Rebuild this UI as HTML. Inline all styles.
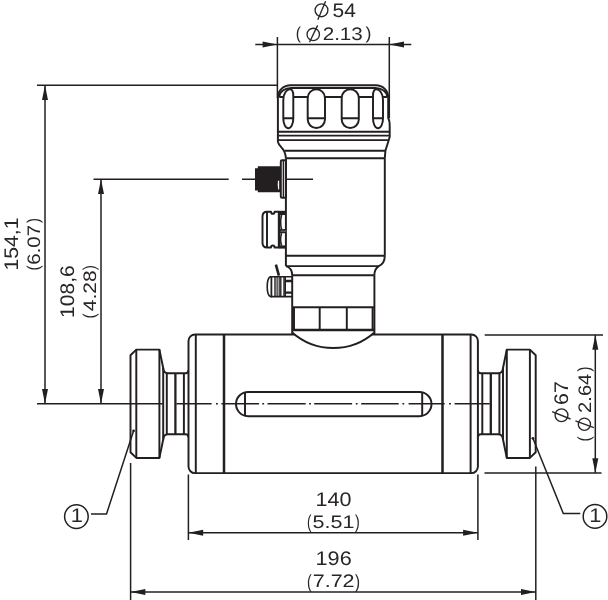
<!DOCTYPE html>
<html>
<head>
<meta charset="utf-8">
<style>
html,body{margin:0;padding:0;background:#fff;}
svg{display:block;will-change:transform;}
text{font-family:"Liberation Sans",sans-serif;fill:#2a2627;stroke:none;}
</style>
</head>
<body>
<svg width="608" height="600" viewBox="0 0 608 600">
<rect width="608" height="600" fill="#fff"/>

<!-- ============ DEVICE ============ -->
<g stroke="#231f20" stroke-width="1.95" fill="none" stroke-linejoin="round">
  <!-- flanges -->
  <path d="M136.3 349.6H159.4V457.9H136.3L130.5 452.2V355.3Z" fill="#fff"/>
  <path d="M136.3 349.6V457.9"/>
  <path d="M529.9 349.6H506.8V457.9H529.9L535.7 452.2V355.3Z" fill="#fff"/>
  <path d="M529.9 349.6V457.9"/>
  <!-- left neck -->
  <path d="M159.4 349.6L163.2 368V439.5L159.4 457.9"/>
  <path d="M163.2 368C163.5 372 165 373.3 168 373.3H185.5C187.5 373.3 188.5 372 188.5 370"/>
  <path d="M163.2 439.5C163.5 435.5 165 434.3 168 434.3H185.5C187.5 434.3 188.5 435.5 188.5 437.5"/>
  <path d="M166.8 373.3V434.3M183.9 373.3V434.3"/>
  <path d="M175.4 373.3V434.3" stroke-width="2.3"/>
  <!-- right neck -->
  <path d="M506.8 349.6L503 368V439.5L506.8 457.9"/>
  <path d="M503 368C502.7 372 501.2 373.3 498.2 373.3H480.7C478.7 373.3 477.9 372 477.9 370"/>
  <path d="M503 439.5C502.7 435.5 501.2 434.3 498.2 434.3H480.7C478.7 434.3 477.9 435.5 477.9 437.5"/>
  <path d="M499.4 373.3V434.3M482.3 373.3V434.3"/>
  <path d="M490.8 373.3V434.3" stroke-width="2.3"/>
  <!-- body -->
  <rect x="188.5" y="334.5" width="289.4" height="138.6" rx="6.5" fill="#fff"/>
  <path d="M195.8 334.5V473M470.6 334.5V473"/>
  <path d="M224 334.5V473M442.5 334.5V473" stroke-width="2.5"/>

  <!-- neck & nut -->
  <path d="M292.2 275.2V334M374.4 275.2V334"/>
  <path d="M292.2 307.2H374.4" stroke-width="1.9"/>
  <path d="M292.2 330H374.4" stroke-width="2.6"/>
  <path d="M294 307.2V330M319.7 307.2V330M346.8 307.2V330M372.6 307.2V330"/>
  <!-- bowl -->
  <path d="M292.2 332.4A62 62 0 0 0 374.4 332.4" fill="#fff"/>
  <!-- housing -->
  <path d="M285.9 158.3V266M384.8 158.3V255.7"/>
  <path d="M285.9 255.7H384.8M285.9 266.1H378.8M292.2 275.2H374.4"/>
  <path d="M384.8 255.7C384.8 261 382 264.6 378.8 266.1C375.6 268 374.4 271 374.4 275.2"/>
  <path d="M285.9 266.1C289 267 292.2 270 292.2 275.2"/>
  <!-- cap -->
  <path d="M277.9 142V97A12.7 11.8 0 0 1 290.6 85.2H375.8A12.4 11.8 0 0 1 388.2 97V118C389.4 120 389.7 123 389.7 126V137L385.4 150.8L384.8 158.3" fill="#fff"/>
  <path d="M277.9 142C279 146 283 148 284.5 152C285.5 154.5 285.9 156 285.9 158.3"/>
  <path d="M279.3 97A12 9.1 0 0 1 291.3 87.9H375.2A12 9.1 0 0 1 387.2 97"/>
  <path d="M279.2 97H387.2"/>
  <path d="M278.1 131.7H389.7M278.1 135.6H389.7M278.1 140.1H389"/>
  <path d="M284.4 150.8H385.4M285.9 158.3H384.8"/>
  <!-- slots -->
  <path d="M283.3 118.3V100C283.3 93 287 89.3 290 89.3C292 89.3 293.3 92 293.3 96V118.3C293.3 124 291.1 128.2 288.3 128.2C285.5 128.2 283.3 124 283.3 118.3Z" fill="#fff"/>
  <path d="M383 118.3V100C383 93 379.3 89.3 376.3 89.3C374.3 89.3 373 92 373 96V118.3C373 124 375.2 128.2 378 128.2C380.8 128.2 383 124 383 118.3Z" fill="#fff"/>
  <rect x="307.7" y="89.3" width="17.3" height="38.7" rx="8.65" fill="#fff"/>
  <rect x="341.7" y="89.3" width="17.1" height="38.7" rx="8.55" fill="#fff"/>
  <path d="M283.3 118.3H293.3M307.7 118.3H325M341.7 118.3H358.8M373 118.3H383"/>
  <!-- M12 connector -->
  <path d="M255 168.3H257.8V166.2H281V192.2H257.8V190.4H255Z" fill="#231f20" stroke="none"/>
  <path d="M277.9 180.8Q277.4 185 278.2 189.6H279.2V180.8Z" fill="#fff" stroke="none"/>
  <rect x="280.8" y="160.2" width="5.1" height="37.6" rx="1.3" fill="#fff"/>
  <path d="M283.4 160.5V197.5" stroke-width="1.5"/>
  <!-- cable gland -->
  <path d="M278.8 211.7H274.6C274.6 214.5 271 214.5 271 211.7H267C264 211.7 262.5 214 262.5 216.5V242.7C262.5 245.2 264 247.5 267 247.5H271C271 244.7 274.6 244.7 274.6 247.5H278.8Z" fill="#fff"/>
  <path d="M267 212V247.3"/>
  <path d="M279.3 211.5V248" stroke-width="2.2"/>
  <rect x="278.8" y="210.8" width="7.1" height="4.2" fill="#231f20" stroke="none"/>
  <rect x="278.8" y="245.4" width="7.1" height="3.2" fill="#231f20" stroke="none"/>
  <rect x="278.8" y="229.1" width="7.1" height="4.1" fill="#231f20" stroke="none"/>
  <path d="M280.6 231.15H285.9" stroke="#8a8687" stroke-width="0.9"/>
  <path d="M281.6 215C280.3 220 280.3 224.5 281.6 229.1M281.6 233.2C280.3 237.5 280.3 241.5 281.6 245.4" stroke-width="1.5"/>
  <!-- grounding screw -->
  <path d="M275.9 264.6L278.9 275.6" stroke-width="2.6"/>
  <path d="M271.5 276.8H270.3C266.2 279 266.2 294.5 270.3 296.6H271.5Z" fill="#fff" stroke-width="1.6"/>
  <rect x="271.5" y="276.8" width="13.7" height="19.8" fill="#fff" stroke-width="1.6"/>
  <path d="M275 276.8V296.6M280.8 276.8V296.6M284 276.8V296.6" stroke-width="1.4"/>
  <path d="M277.1 276.8V296.6M279.2 276.8V296.6" stroke-width="1.2"/>
  <path d="M285.2 276.8H292M285.2 296.6H292" stroke-width="1.6"/>
  <path d="M285.2 281H292M285.2 292.6H292" stroke-width="2.4"/>
  <!-- slot -->
  <rect x="236" y="392" width="195.5" height="24.2" rx="12.1" fill="#fff"/>
  <path d="M245 392V416.2M422.2 392V416.2"/>
</g>

<!-- ============ DIMENSION LINES ============ -->
<g stroke="#231f20" stroke-width="1.5" fill="none">
  <!-- 154,1 -->
  <path d="M37 85.2H278"/>
  <path d="M45 85.2V403.8"/>
  <!-- 108,6 -->
  <path d="M93.5 179.2H228.7M242 179.2H256M286 179.2H313"/>
  <path d="M101 179.2V403.8"/>
  <!-- center / baseline -->
  <path d="M37 403.8H162.6"/>
  <path d="M176.4 403.8H211.6M216 403.8h1.8M221.4 403.8H259M262.3 403.8h1.8M267.5 403.8H305.7M309.1 403.8h1.8M314.2 403.8H352.1M355.8 403.8h1.8M361.2 403.8H398.7M402.4 403.8h1.8M408.6 403.8H444.7M449.1 403.8h1.8M454.6 403.8H489.7"/>
  <!-- Ø54 -->
  <path d="M277.4 37V98M389.3 37V118"/>
  <path d="M255.3 44.5H411.3"/>
  <!-- Ø67 -->
  <path d="M484.7 334.9H603M484.5 473H601.5"/>
  <path d="M595.3 334.9V473"/>
  <!-- 140 -->
  <path d="M188.4 474.5V540M477.9 474.5V540"/>
  <path d="M188.4 532.7H477.9"/>
  <!-- 196 -->
  <path d="M130.6 463V600M535.8 466.5V600"/>
  <path d="M130.6 592H535.8"/>
  <!-- callout leaders -->
  <path d="M91 514H106.5L133.6 430.8"/>
  <path d="M580.3 513.5H563.3L532.9 438.3"/>
  <circle cx="76.4" cy="516.6" r="11.8"/>
  <circle cx="595" cy="516.4" r="11.8"/>
</g>
<!-- arrows -->
<g fill="#231f20">
  <circle cx="133.6" cy="430.8" r="1.4"/>
  <circle cx="532.9" cy="438.3" r="1.4"/>
  <path d="M45.0 85.2L42.0 100.0H48.0Z"/>
  <path d="M45.0 403.8L42.0 389.0H48.0Z"/>
  <path d="M101.0 179.2L98.0 194.0H104.0Z"/>
  <path d="M101.0 403.8L98.0 389.0H104.0Z"/>
  <path d="M277.4 44.5L262.6 41.5V47.5Z"/>
  <path d="M389.2 44.5L404.0 41.5V47.5Z"/>
  <path d="M595.3 334.9L592.3 349.7H598.3Z"/>
  <path d="M595.3 473.0L592.3 458.2H598.3Z"/>
  <path d="M188.4 532.7L203.2 529.7V535.7Z"/>
  <path d="M477.9 532.7L463.1 529.7V535.7Z"/>
  <path d="M130.6 592.0L145.4 589.0V595.0Z"/>
  <path d="M535.8 592.0L521.0 589.0V595.0Z"/>
</g>

<!-- ============ TEXT ============ -->
<g text-rendering="geometricPrecision">
<text transform="translate(332.56 17) scale(1.063 1)" font-size="19.71">54</text>
<text transform="translate(322.67 40) scale(1.138 1)" font-size="18.14">2.13</text>
<text transform="translate(295.77 39) scale(0.893 1)" font-size="17.33">(</text>
<text transform="translate(365.41 39) scale(1.024 1)" font-size="17.33">)</text>
<text transform="translate(315.58 506) scale(1.096 1)" font-size="19.71">140</text>
<text transform="translate(312.54 528) scale(1.188 1)" font-size="18.14">5.51</text>
<text transform="translate(306.91 528) scale(0.702 1)" font-size="18.82">(</text>
<text transform="translate(354.93 528) scale(0.762 1)" font-size="18.82">)</text>
<text transform="translate(315.57 565) scale(1.100 1)" font-size="19.71">196</text>
<text transform="translate(312.72 587) scale(1.186 1)" font-size="18.14">7.72</text>
<text transform="translate(306.96 588) scale(0.733 1)" font-size="19.04">(</text>
<text transform="translate(354.92 588) scale(0.793 1)" font-size="19.04">)</text>
<text transform="translate(18 270.49) rotate(-90) scale(1.074 1)" font-size="19.71">154,1</text>
<text transform="translate(40 264.72) rotate(-90) scale(1.129 1)" font-size="18.14">6.07</text>
<text transform="translate(39 270.51) rotate(-90) scale(0.882 1)" font-size="17.11">(</text>
<text transform="translate(39 222.98) rotate(-90) scale(0.882 1)" font-size="17.11">)</text>
<text transform="translate(74 317.88) rotate(-90) scale(1.066 1)" font-size="19.71">108,6</text>
<text transform="translate(96 311.22) rotate(-90) scale(1.158 1)" font-size="18.14">4.28</text>
<text transform="translate(95 318.51) rotate(-90) scale(0.882 1)" font-size="17.11">(</text>
<text transform="translate(95 270.28) rotate(-90) scale(0.926 1)" font-size="17.11">)</text>
<text transform="translate(568 404.97) rotate(-90) scale(1.085 1)" font-size="19.71">67</text>
<text transform="translate(591 412.91) rotate(-90) scale(1.111 1)" font-size="18.14">2.64</text>
<text transform="translate(590 441.51) rotate(-90) scale(0.861 1)" font-size="17.54">(</text>
<text transform="translate(590 371.58) rotate(-90) scale(0.861 1)" font-size="17.54">)</text>
<text transform="translate(70.66 522) scale(1.108 1)" font-size="19.71">1</text>
<text transform="translate(589.16 522) scale(1.108 1)" font-size="19.71">1</text>
</g>
<g stroke="#2a2627" stroke-width="1.35" fill="none">
  <circle cx="321.5" cy="10.3" r="6.4"/><path d="M317.8 19.7L325.6 1.2"/>
  <circle cx="313.25" cy="34.45" r="6.2"/><path d="M309.5 42.2L317.6 25.4"/>
  <circle cx="561.5" cy="415.2" r="6.4"/><path d="M552.1 411.7L570.5 419"/>
  <circle cx="584.4" cy="424.2" r="6.1"/><path d="M575.4 420.8L593.9 427.6"/>
</g>
</svg>
</body>
</html>
